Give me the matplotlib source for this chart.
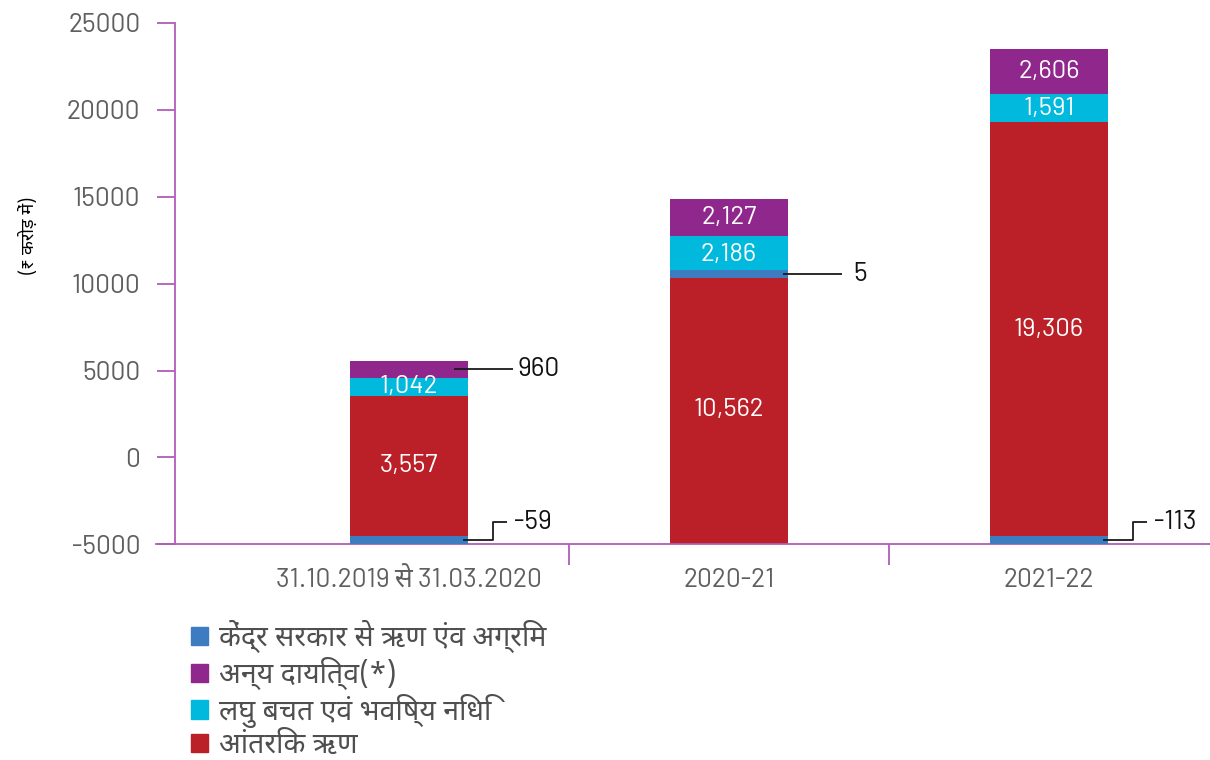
import matplotlib
matplotlib.use("Agg")
import matplotlib.pyplot as plt
from matplotlib.patches import Patch
import numpy as np

plt.rcParams["axes.unicode_minus"] = False

# font stacks: digits in a DIN-like grotesque, Devanagari from Noto
NUM_FONT = ["Barlow", "Roboto", "Noto Sans Devanagari", "DejaVu Sans"]
DEVA_FONT = ["Noto Sans Devanagari", "Roboto", "DejaVu Sans"]

# ── data (₹ crore) ────────────────────────────────────────────────────────────
periods = ["31.10.2019 से 31.03.2020", "2020-21", "2021-22"]
central_loans = [-59, 5, -113]          # केंद्र सरकार से ऋण एंव अग्रिम
other_liab = [960, 2127, 2606]          # अन्य दायित्व(*)
small_savings = [1042, 2186, 1591]      # लघु बचत एवं भविष्य निधि
internal_debt = [3557, 10562, 19306]    # आंतरिक ऋण

legend_labels = ["केंद्र सरकार से ऋण एंव अग्रिम", "अन्य दायित्व(*)",
                 "लघु बचत एवं भविष्य निधि", "आंतरिक ऋण"]
y_ticks = [-5000, 0, 5000, 10000, 15000, 20000, 25000]

C_BLUE = "#3d7cc0"
C_PURPLE = "#8f278d"
C_CYAN = "#00b9dc"
C_RED = "#bb1f28"
C_AXIS = "#b25cb6"
C_TICKTXT = "#5f5f5f"

Y_FLOOR, Y_TOP = -5000, 25000
BAND = 480          # minimum visible thickness of the small blue segment
W = 0.37

fig = plt.figure(figsize=(12.1, 7.6), dpi=100)
ax = fig.add_axes([175 / 1210, 1 - 544.4 / 760, 1 - 175 / 1210, (544.4 - 23) / 760])

x = np.arange(len(periods))
red = np.array(internal_debt, dtype=float)
cyan = np.array(small_savings, dtype=float)
purple = np.array(other_liab, dtype=float)
blue = np.array(central_loans, dtype=float)

# positive stack from zero; the red block is filled down to the axis floor
ax.bar(x, red - Y_FLOOR, W, bottom=Y_FLOOR, color=C_RED, zorder=2)
ax.bar(x, cyan, W, bottom=red, color=C_CYAN, zorder=2)
ax.bar(x, purple, W, bottom=red + cyan, color=C_PURPLE, zorder=2)

# blue: negatives sit on the floor, positives straddle the red/cyan joint
blue_lo = np.where(blue < 0, Y_FLOOR, red - BAND / 2)
ax.bar(x, np.full(len(x), BAND), W, bottom=blue_lo, color=C_BLUE, zorder=3)

# labels inside the segments
lab_kw = dict(ha="center", va="center", color="white", fontsize=18.5,
              family=NUM_FONT, zorder=4)
for i in range(len(x)):
    red_lo = Y_FLOOR + (BAND if blue[i] < 0 else 0)
    ax.text(x[i], (red_lo + red[i]) / 2, f"{internal_debt[i]:,}", **lab_kw)
    ax.text(x[i], red[i] + cyan[i] / 2, f"{small_savings[i]:,}", **lab_kw)
    if purple[i] >= 1500:
        ax.text(x[i], red[i] + cyan[i] + purple[i] / 2, f"{other_liab[i]:,}", **lab_kw)

# leader-line labels outside the bars
out_kw = dict(ha="left", va="center", color="#111111", fontsize=19,
              family=NUM_FONT, zorder=4)
line_kw = dict(color="#1a1a1a", lw=1.3, zorder=5, solid_capstyle="butt")
for i in range(len(x)):
    edge = x[i] + W / 2
    if purple[i] < 1500:
        ym = red[i] + cyan[i] + purple[i] / 2
        ax.plot([edge - 0.044, edge + 0.14], [ym, ym], **line_kw)
        ax.text(edge + 0.155, ym, f"{other_liab[i]:,}", **out_kw)
    if blue[i] < 0:
        ym = Y_FLOOR + BAND / 2
        yk = Y_FLOOR + 1290
        ax.plot([edge - 0.015, edge + 0.077, edge + 0.077, edge + 0.122],
                [ym, ym, yk, yk], **line_kw)
        ax.text(edge + 0.143, yk, f"{central_loans[i]:,}", **out_kw)
    else:
        ym = red[i]
        ax.plot([edge - 0.016, edge + 0.169], [ym, ym], **line_kw)
        ax.text(edge + 0.203, ym, f"{central_loans[i]:,}", **out_kw)

# ── axes styling ─────────────────────────────────────────────────────────────
ax.set_xlim(-0.731, 2.503)
ax.set_ylim(Y_FLOOR, Y_TOP)
for s in ("top", "right"):
    ax.spines[s].set_visible(False)
for s in ("left", "bottom"):
    ax.spines[s].set_color(C_AXIS)
    ax.spines[s].set_linewidth(1.3)
ax.spines["bottom"].set_bounds(-0.79, 2.503)
ax.spines["bottom"].set_clip_on(False)

ax.set_yticks(y_ticks)
ax.set_yticklabels([str(v) for v in y_ticks], family=NUM_FONT, fontsize=19,
                   color=C_TICKTXT)
ax.tick_params(axis="y", length=13, width=1.3, color=C_AXIS, pad=12)

ax.set_xticks(x)
ax.set_xticklabels(periods, family=NUM_FONT, fontsize=19, color=C_TICKTXT)
ax.set_xticks([0.5, 1.5], minor=True)
ax.tick_params(axis="x", which="major", length=0, pad=17)
ax.tick_params(axis="x", which="minor", length=15, width=1.3, color=C_AXIS)

fig.text(28 / 1210, 1 - 236 / 760, "(₹ करोड़ में)", rotation=90, ha="center",
         va="center", fontsize=13, style="italic", family=DEVA_FONT)

handles = [Patch(color=c) for c in (C_BLUE, C_PURPLE, C_CYAN, C_RED)]
fig.legend(handles, legend_labels, loc="upper left",
           bbox_to_anchor=(191 / 1210, 1 - 620 / 760), frameon=False,
           prop={"family": DEVA_FONT, "size": 20.5}, labelcolor="#4f4f4f",
           handlelength=0.6, handleheight=0.6, handletextpad=0.4,
           labelspacing=0.13, borderpad=0, borderaxespad=0)

fig.savefig("out.png", dpi=100)
